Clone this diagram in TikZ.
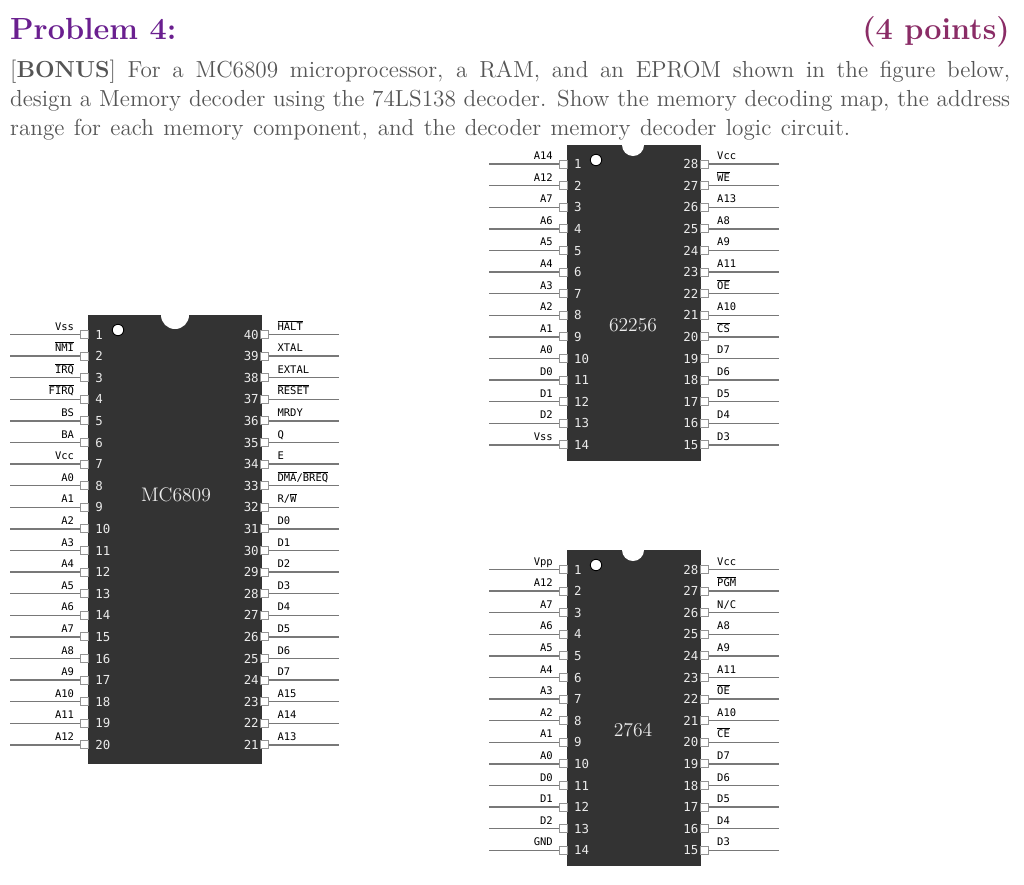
\documentclass[tikz,border=0pt]{standalone}
\usepackage{fontspec}
\setmainfont{lmroman12-regular}[Extension=.otf,BoldFont=lmroman12-bold,ItalicFont=lmroman12-italic]
\setmonofont{DejaVu Sans Mono}
\definecolor{chipfill}{HTML}{333333}
\definecolor{pinline}{HTML}{787878}
\definecolor{bodytext}{HTML}{555555}
\definecolor{titlepurple}{HTML}{6A1F8F}
\definecolor{pointscol}{HTML}{8A2C66}
\newcommand{\ovl}[1]{$\overline{\hbox{#1}}$}
\tikzset{
  chipbody/.style={fill=chipfill,draw=none,inner sep=0pt,anchor=north west},
  pinsq/.style={draw=pinline!80,fill=white,line width=1pt,minimum size=8pt,inner sep=0pt},
  pinwire/.style={draw=pinline,line width=1.4pt},
  pinnum/.style={font=\fontsize{12.4}{12}\ttfamily,text=white!92!black,inner sep=0pt},
  pinlab/.style={font=\fontsize{10.5}{12}\ttfamily,text=black,inner sep=0pt},
  chipname/.style={font=\fontsize{19.6}{22}\selectfont,text=white!92!black,inner sep=0pt},
  para/.style={font=\fontsize{23.2}{29}\selectfont,text=bodytext,inner sep=0pt,anchor=base west},
  heading/.style={font=\fontsize{30.6}{32}\selectfont\bfseries,inner sep=0pt}
}
% #1 name #2 left #3 right #4 top #5 bottom #6 first pin y #7 notch radius #8 notch x #9 dot x
\newcommand{\chipdraw}[9]{%
  \pgfmathsetlengthmacro{\chipw}{(#3-#2)*1pt}
  \pgfmathsetlengthmacro{\chiph}{(#5-#4)*1pt}
  \node[chipbody,minimum width=\chipw,minimum height=\chiph] (#1) at (#2,#4) {};
  \begin{scope}
    \clip (#2,#4) rectangle (#3,#5);
    \fill[white] (#8,#4) circle[radius=#7pt];
  \end{scope}
  \fill[white,draw=black,line width=0.9pt] (#9,#4+15) circle[radius=5.7pt];
  \def\chipL{#2}\def\chipR{#3}\def\chipY{#6}\def\chipN{#1}%
}
% #1 = total pins, #2 left labels, #3 right labels
\newcommand{\chippins}[3]{%
  \foreach \lab [count=\i] in {#2} {
    \pgfmathsetmacro{\py}{\chipY+(\i-1)*21.6}
    \pgfmathsetmacro{\qx}{\chipL-3.5}
    \pgfmathsetmacro{\ex}{\chipL-78}
    \node[pinsq] (\chipN L\i) at (\qx,\py) {};
    \coordinate (\chipN LE\i) at (\ex,\py);
    \draw[pinwire] (\chipN LE\i) -- (\chipN L\i.west);
    \node[pinlab,anchor=base east] (\chipN LT\i) at (\chipL-14,\py-4.5) {\lab};
    \node[pinnum,anchor=base west] (\chipN LN\i) at (\chipL+7,\py+4.6) {\i};
  }
  \foreach \lab [count=\i] in {#3} {
    \pgfmathsetmacro{\py}{\chipY+(\i-1)*21.6}
    \pgfmathsetmacro{\qx}{\chipR+3.5}
    \pgfmathsetmacro{\ex}{\chipR+78}
    \pgfmathtruncatemacro{\nn}{#1+1-\i}
    \node[pinsq] (\chipN R\i) at (\qx,\py) {};
    \coordinate (\chipN RE\i) at (\ex,\py);
    \draw[pinwire] (\chipN R\i.east) -- (\chipN RE\i);
    \node[pinlab,anchor=base west] (\chipN RT\i) at (\chipR+16,\py-4.5) {\lab};
    \node[pinnum,anchor=base east] (\chipN RN\i) at (\chipR-2.5,\py+4.6) {\nn};
  }
}
\begin{document}
\begin{tikzpicture}[x=1pt,y=-1pt]
\useasboundingbox (0,0) rectangle (1024,884);
\fill[white] (0,0) rectangle (1024,884);
\node[heading,text=titlepurple,anchor=base west] (title) at (10,39) {Problem 4:};
\node[heading,text=pointscol,anchor=base east] (points) at (1010,39) {(4 points)};
\node[para] (l1) at (10,77) {\makebox[1000pt][s]{[\textbf{BONUS}] For a MC6809 microprocessor, a RAM, and an EPROM shown in the figure below,}};
\node[para] (l2) at (10,106) {\makebox[1000pt][s]{design a Memory decoder using the 74LS138 decoder. Show the memory decoding map, the address}};
\node[para] (l3) at (10,135.3) {\makebox[840pt][s]{range for each memory component, and the decoder memory decoder logic circuit.}};

\chipdraw{cpu}{88.2}{261.4}{315}{764}{334.5}{14}{175}{118}
\chippins{40}{Vss,\ovl{NMI},\ovl{IRQ},\ovl{FIRQ},BS,BA,Vcc,A0,A1,A2,A3,A4,A5,A6,A7,A8,A9,A10,A11,A12}
 {\ovl{HALT},XTAL,EXTAL,\ovl{RESET},MRDY,Q,E,{\ovl{DMA}/\ovl{BREQ}},{R/\ovl{W}},D0,D1,D2,D3,D4,D5,D6,D7,A15,A14,A13}
\node[chipname] (cpuname) at (176,495) {MC6809};

\chipdraw{ram}{567}{701}{145}{461}{164}{11}{633}{596}
\chippins{28}{A14,A12,A7,A6,A5,A4,A3,A2,A1,A0,D0,D1,D2,Vss}
 {Vcc,\ovl{WE},A13,A8,A9,A11,\ovl{OE},A10,\ovl{CS},D7,D6,D5,D4,D3}
\node[chipname] (ramname) at (633,325) {62256};

\chipdraw{rom}{567}{701}{550}{866}{569.5}{11}{633}{596}
\chippins{28}{Vpp,A12,A7,A6,A5,A4,A3,A2,A1,A0,D0,D1,D2,GND}
 {Vcc,\ovl{PGM},N/C,A8,A9,A11,\ovl{OE},A10,\ovl{CE},D7,D6,D5,D4,D3}
\node[chipname] (romname) at (633,730) {2764};
\end{tikzpicture}
\end{document}
